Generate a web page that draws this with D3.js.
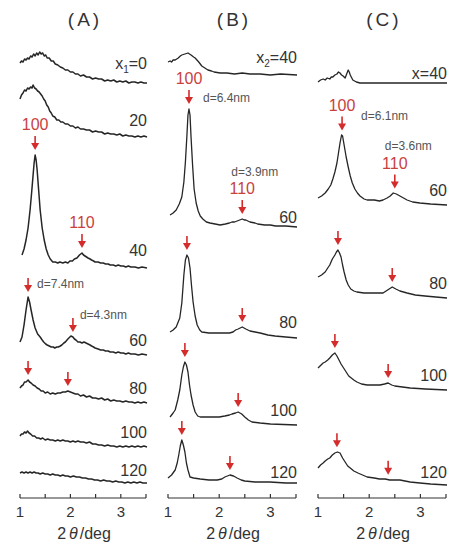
<!DOCTYPE html>
<html>
<head>
<meta charset="utf-8">
<script src="https://cdn.jsdelivr.net/npm/d3@7"></script>
<style>
  body { margin: 0; background: #fff; }
  text { font-family: "Liberation Sans", Arial, sans-serif; }
</style>
</head>
<body>
<script>
// ---- data (2theta in deg, intensity in a.u., each curve shifted by its offset) ----
var labelsA = ["x_1=0", "20", "40", "60", "80", "100", "120"];
var offsetsA = [415, 361, 230, 143, 95, 51, 15];
var curvesA = [
  [[1.0,20],[1.03,22],[1.06,21],[1.09,24],[1.12,23],[1.15,25],[1.18,24],[1.21,27],[1.24,26],[1.27,29],[1.3,27],[1.33,30],[1.36,28],[1.39,31],[1.42,29],[1.45,30],[1.48,27],[1.51,28],[1.54,25],[1.58,25],[1.62,22],[1.66,22],[1.7,19],[1.75,18],[1.8,16],[1.85,15],[1.9,13],[1.95,13],[2.0,11],[2.05,11],[2.1,9],[2.15,9],[2.2,7],[2.26,8],[2.32,6],[2.38,6],[2.44,4],[2.5,5],[2.56,4],[2.62,4],[2.68,2],[2.74,3],[2.8,2],[2.86,3],[2.92,1],[2.98,2],[3.04,1],[3.1,2],[3.16,0],[3.22,1],[3.28,1],[3.34,0],[3.4,1],[3.46,0],[3.52,0]],
  [[1.0,38],[1.03,42],[1.06,44],[1.09,47],[1.12,46],[1.15,49],[1.18,48],[1.21,50],[1.24,49],[1.26,52],[1.29,49],[1.32,48],[1.35,46],[1.38,45],[1.41,43],[1.44,41],[1.47,38],[1.5,36],[1.53,32],[1.56,30],[1.59,26],[1.62,24],[1.65,21],[1.69,20],[1.73,17],[1.77,17],[1.81,15],[1.85,15],[1.9,13],[1.95,13],[2.0,11],[2.05,11],[2.1,9],[2.15,10],[2.2,8],[2.26,8],[2.32,7],[2.38,7],[2.44,5],[2.5,6],[2.56,5],[2.62,5],[2.68,3],[2.74,4],[2.8,3],[2.86,3],[2.92,2],[2.98,3],[3.04,1],[3.1,2],[3.16,1],[3.22,1],[3.28,0],[3.34,1],[3.4,0],[3.46,1],[3.52,0]],
  [[1.04,13],[1.08,19],[1.12,28],[1.16,40],[1.2,58],[1.23,75],[1.26,93],[1.28,105],[1.30,113],[1.32,108],[1.34,98],[1.37,78],[1.4,58],[1.44,40],[1.48,28],[1.52,19],[1.56,13],[1.6,9],[1.65,6],[1.7,6],[1.75,5],[1.79,6],[1.85,5],[1.9,6],[1.95,5],[1.99,7],[2.04,7],[2.08,9],[2.13,10],[2.18,13],[2.23,15],[2.26,13],[2.29,12],[2.32,11],[2.35,10],[2.39,9],[2.42,8],[2.46,7],[2.49,6],[2.55,6],[2.6,5],[2.65,5],[2.7,4],[2.75,4],[2.79,3],[2.85,3],[2.9,2],[2.95,3],[3.0,2],[3.05,2],[3.1,1],[3.15,2],[3.2,1],[3.28,1],[3.35,0],[3.42,1],[3.52,0]],
  [[1.0,13],[1.04,18],[1.08,30],[1.12,45],[1.16,58],[1.19,53],[1.22,45],[1.26,35],[1.30,27],[1.35,21],[1.40,18],[1.44,15],[1.47,13],[1.51,11],[1.54,10],[1.58,9],[1.62,8],[1.66,8],[1.69,7],[1.73,8],[1.76,8],[1.8,9],[1.83,10],[1.87,12],[1.9,13],[1.95,16],[2.01,19],[2.05,18],[2.08,16],[2.11,15],[2.15,13],[2.19,13],[2.23,12],[2.27,13],[2.31,12],[2.35,11],[2.39,10],[2.42,9],[2.46,8],[2.49,7],[2.55,6],[2.6,5],[2.65,5],[2.7,4],[2.75,4],[2.79,3],[2.85,3],[2.9,2],[2.95,3],[3.0,2],[3.05,2],[3.1,1],[3.15,2],[3.2,1],[3.28,1],[3.35,0],[3.42,1],[3.52,0]],
  [[1.0,15],[1.03,17],[1.06,18],[1.09,21],[1.12,21],[1.16,23],[1.19,21],[1.22,20],[1.26,18],[1.3,17],[1.34,15],[1.38,14],[1.42,12],[1.46,12],[1.5,10],[1.55,11],[1.6,9],[1.65,10],[1.7,9],[1.75,10],[1.8,10],[1.85,11],[1.9,11],[1.95,12],[2.0,11],[2.05,10],[2.1,9],[2.15,9],[2.2,7],[2.26,8],[2.32,6],[2.38,7],[2.44,5],[2.5,5],[2.56,4],[2.62,5],[2.68,3],[2.74,4],[2.8,2],[2.86,3],[2.92,2],[2.98,2],[3.04,1],[3.1,2],[3.16,1],[3.22,1],[3.28,0],[3.34,1],[3.4,0],[3.46,1],[3.52,0]],
  [[1.0,11],[1.03,13],[1.06,13],[1.09,15],[1.12,14],[1.15,16],[1.18,14],[1.21,13],[1.25,11],[1.29,11],[1.33,9],[1.37,9],[1.41,8],[1.45,9],[1.5,7],[1.55,8],[1.6,7],[1.65,7],[1.7,6],[1.75,7],[1.8,6],[1.85,7],[1.9,6],[1.95,6],[2.0,5],[2.05,6],[2.1,5],[2.15,6],[2.2,5],[2.26,5],[2.32,4],[2.38,5],[2.44,3],[2.5,3],[2.56,2],[2.62,2],[2.68,1],[2.74,2],[2.8,1],[2.86,1],[2.92,0],[2.98,1],[3.04,0],[3.1,1],[3.16,0],[3.22,1],[3.28,0],[3.34,1],[3.4,0],[3.46,1],[3.52,0]],
  [[1.0,10],[1.04,11],[1.08,10],[1.12,11],[1.16,10],[1.2,11],[1.24,10],[1.28,11],[1.32,10],[1.36,10],[1.4,9],[1.45,10],[1.5,9],[1.55,9],[1.6,8],[1.65,9],[1.7,8],[1.75,8],[1.8,7],[1.85,8],[1.9,7],[1.95,7],[2.0,6],[2.06,7],[2.12,6],[2.18,6],[2.24,5],[2.3,5],[2.36,4],[2.42,4],[2.48,3],[2.54,3],[2.6,2],[2.66,3],[2.72,2],[2.78,2],[2.84,1],[2.9,2],[2.96,1],[3.02,1],[3.08,0],[3.14,1],[3.2,0],[3.26,1],[3.32,0],[3.38,1],[3.44,0],[3.52,0]]
];
var peaksA = [[], [], [1.30, 2.23], [1.16, 2.05], [1.16, 1.95], [], []];

var labelsB = ["x_2=40", "60", "80", "100", "120"];
var offsetsB = [423, 271, 160, 73, 15];
var curvesB = [
  [[1.0,13],[1.04,14],[1.07,13],[1.1,15],[1.14,15],[1.2,17],[1.24,19],[1.27,20],[1.33,21],[1.39,22],[1.45,20],[1.5,18],[1.53,17],[1.6,13],[1.66,9],[1.72,7],[1.78,5],[1.85,4],[1.9,3],[2.02,2],[2.15,2],[2.3,1],[2.45,2],[2.6,1],[2.8,1],[3.0,0],[3.2,1],[3.52,0]],
  [[1.04,12],[1.1,14],[1.16,17],[1.22,23],[1.27,30],[1.31,45],[1.34,65],[1.37,92],[1.39,112],[1.41,118],[1.43,112],[1.45,90],[1.48,62],[1.51,38],[1.55,24],[1.59,16],[1.63,11],[1.68,8],[1.75,5],[1.82,4],[1.92,3],[2.02,2],[2.12,3],[2.2,4],[2.25,5],[2.3,5],[2.35,6],[2.4,7],[2.45,8],[2.49,7],[2.52,7],[2.56,6],[2.6,5],[2.7,4],[2.75,3],[2.89,2],[3.0,2],[3.1,1],[3.3,1],[3.52,0]],
  [[1.04,6],[1.1,8],[1.16,11],[1.23,20],[1.27,35],[1.31,63],[1.34,78],[1.37,83],[1.40,80],[1.43,70],[1.46,52],[1.49,36],[1.53,22],[1.57,13],[1.62,8],[1.66,6],[1.8,5],[1.92,5],[2.1,5],[2.2,5],[2.27,6],[2.32,8],[2.37,9],[2.45,11],[2.52,9],[2.6,7],[2.7,6],[2.8,5],[2.95,3],[3.09,2],[3.3,1],[3.52,0]],
  [[1.04,8],[1.1,12],[1.14,15],[1.19,25],[1.23,35],[1.27,50],[1.30,58],[1.33,63],[1.36,60],[1.39,53],[1.42,40],[1.45,30],[1.49,20],[1.53,13],[1.58,9],[1.63,8],[1.8,8],[2.0,8],[2.11,9],[2.2,10],[2.25,11],[2.32,12],[2.37,13],[2.44,11],[2.5,8],[2.57,5],[2.64,3],[2.8,2],[3.0,1],[3.52,0]],
  [[1.0,5],[1.07,8],[1.14,13],[1.18,20],[1.21,28],[1.24,37],[1.27,43],[1.30,38],[1.33,31],[1.36,20],[1.39,13],[1.43,6],[1.5,5],[1.63,4],[1.8,3],[1.96,3],[2.05,4],[2.11,6],[2.16,7],[2.21,8],[2.28,7],[2.35,5],[2.43,3],[2.5,2],[2.7,1],[2.99,1],[3.3,0],[3.52,0]]
];
var peaksB = [[], [1.41, 2.45], [1.37, 2.45], [1.33, 2.37], [1.27, 2.21]];

var labelsC = ["x=40", "60", "80", "100", "120"];
var offsetsC = [415, 293, 200, 108, 13];
var curvesC = [
  [[1.0,1],[1.05,3],[1.1,4],[1.14,3],[1.18,5],[1.23,4],[1.26,6],[1.29,6],[1.33,8],[1.37,9],[1.4,11],[1.43,10],[1.46,8],[1.49,7],[1.53,5],[1.56,9],[1.59,13],[1.61,11],[1.63,8],[1.66,5],[1.68,3],[1.75,1],[1.82,0],[2.2,0],[2.6,0],[3.0,0],[3.52,0]],
  [[1.0,7],[1.07,9],[1.14,12],[1.2,16],[1.25,20],[1.29,26],[1.33,33],[1.37,42],[1.40,52],[1.43,62],[1.46,70],[1.48,69],[1.51,60],[1.55,48],[1.59,38],[1.63,29],[1.67,22],[1.72,16],[1.77,12],[1.82,9],[1.9,6],[1.96,5],[2.1,5],[2.2,4],[2.27,5],[2.35,7],[2.41,9],[2.47,12],[2.53,11],[2.6,9],[2.67,7],[2.74,5],[2.85,3],[2.99,2],[3.2,1],[3.52,0]],
  [[1.0,21],[1.07,23],[1.14,26],[1.19,30],[1.23,33],[1.28,39],[1.33,43],[1.36,46],[1.39,48],[1.42,45],[1.45,41],[1.48,33],[1.51,26],[1.55,18],[1.59,13],[1.64,9],[1.7,7],[1.76,6],[1.9,5],[2.02,5],[2.15,5],[2.27,5],[2.36,8],[2.45,11],[2.52,9],[2.6,7],[2.74,5],[2.9,3],[3.09,2],[3.3,1],[3.52,0]],
  [[1.0,22],[1.04,24],[1.1,27],[1.14,28],[1.19,30],[1.23,32],[1.28,35],[1.33,37],[1.37,34],[1.41,30],[1.45,26],[1.5,22],[1.55,18],[1.6,14],[1.65,12],[1.7,10],[1.76,8],[1.85,6],[1.96,5],[2.1,5],[2.21,5],[2.3,6],[2.37,7],[2.44,5],[2.5,4],[2.65,3],[2.8,2],[3.1,1],[3.52,0]],
  [[1.0,17],[1.05,20],[1.1,22],[1.14,24],[1.19,26],[1.23,27],[1.28,30],[1.33,32],[1.38,33],[1.43,32],[1.48,27],[1.53,23],[1.58,19],[1.63,17],[1.7,14],[1.78,12],[1.87,10],[1.96,8],[2.1,7],[2.2,6],[2.31,6],[2.4,5],[2.5,5],[2.6,5],[2.8,3],[2.99,2],[3.2,1],[3.52,0]]
];
var peaksC = [[], [1.47, 2.50], [1.39, 2.45], [1.33, 2.37], [1.37, 2.37]];

var xTicks = [1, 2, 3];
var xMinorTicks = [1, 1.5, 2, 2.5, 3, 3.5];
var panelTitles = ["(A)", "(B)", "(C)"];

// ---- layout ----
var width = 449, height = 544;
var curveColour = "#262626";
var textColour = "#333";
var red = "#d42b2b";
var millerRed = "#c8413f";

var svg = d3.select("body").append("svg")
  .attr("width", width)
  .attr("height", height);

var yScale = d3.scaleLinear().domain([0, 460]).range([498, 38]);

// labelLift: how far above the curve tail the sample label sits
var panels = [
  {title: panelTitles[0], range: [20, 146], labels: labelsA, offsets: offsetsA, curves: curvesA, peaks: peaksA, strokeW: 1.5,
   labelLift: [20, 17, 18, 15, 15, 15, 13], miller: {row: 2},
   dLabels: [{row: 3, peak: 0, text: "d=7.4nm", dx: 9, dy: -4}, {row: 3, peak: 1, text: "d=4.3nm", dx: 7, dy: -13}]},
  {title: panelTitles[1], range: [168, 296], labels: labelsB, offsets: offsetsB, curves: curvesB, peaks: peaksB, strokeW: 1.3,
   labelLift: [18, 10, 16, 15, 11], miller: {row: 1},
   dLabels: [{row: 1, peak: 0, text: "d=6.4nm", dx: 14, dy: -2}, {row: 1, peak: 1, text: "d=3.9nm", dx: -11, dy: -38}]},
  {title: panelTitles[2], range: [318, 446], labels: labelsC, offsets: offsetsC, curves: curvesC, peaks: peaksC, strokeW: 1.3,
   labelLift: [10, 15, 15, 15, 13], miller: {row: 1},
   dLabels: [{row: 1, peak: 0, text: "d=6.1nm", dx: 19, dy: -11}, {row: 1, peak: 1, text: "d=3.6nm", dx: -10, dy: -39}]}
];

var millerText = ["100", "110"];

function valueAt(curve, x) {
  // linear lookup of curve intensity at 2theta = x
  for (var i = 1; i < curve.length; i++) {
    if (curve[i][0] >= x) {
      var a = curve[i - 1], b = curve[i];
      var t = (x - a[0]) / (b[0] - a[0]);
      return a[1] + t * (b[1] - a[1]);
    }
  }
  return curve[curve.length - 1][1];
}

function drawArrow(g, x, tipY) {
  g.append("line")
    .attr("x1", x).attr("x2", x)
    .attr("y1", tipY - 14).attr("y2", tipY - 5)
    .attr("stroke", red).attr("stroke-width", 1.6);
  g.append("path")
    .attr("d", "M" + (x - 4) + "," + (tipY - 7) + "L" + (x + 4) + "," + (tipY - 7) + "L" + x + "," + tipY + "Z")
    .attr("fill", red);
}

function addLabel(g, x, y, label) {
  var t = g.append("text")
    .attr("x", x).attr("y", y)
    .attr("text-anchor", "end")
    .attr("font-size", 16)
    .attr("fill", textColour);
  if (label.indexOf("_") >= 0) {
    var parts = label.split("_");
    t.append("tspan").text(parts[0]);
    t.append("tspan").attr("font-size", 10).attr("dy", 4).text(parts[1].charAt(0));
    t.append("tspan").attr("dy", -4).text(parts[1].slice(1));
  } else {
    t.text(label);
  }
}

panels.forEach(function(p) {
  var g = svg.append("g");
  var xScale = d3.scaleLinear().domain([1, 3.5]).range(p.range);
  var mid = (p.range[0] + p.range[1]) / 2;

  g.append("text")
    .attr("x", mid + 2).attr("y", 26)
    .attr("text-anchor", "middle")
    .attr("font-size", 19)
    .attr("letter-spacing", 3)
    .attr("fill", textColour)
    .text(p.title);

  var line = d3.line()
    .x(function(d) { return xScale(d[0]); })
    .y(function(d) { return d[1]; })
    .curve(d3.curveLinear);

  p.curves.forEach(function(c, i) {
    var off = p.offsets[i];
    var pts = c.map(function(d) { return [d[0], yScale(d[1] + off)]; });
    g.append("path")
      .attr("d", line(pts))
      .attr("fill", "none")
      .attr("stroke", curveColour)
      .attr("stroke-width", p.strokeW)
      .attr("stroke-linejoin", "round");

    addLabel(g, p.range[1] + 1, yScale(off + p.labelLift[i]) + 6, p.labels[i]);

    p.peaks[i].forEach(function(pk, k) {
      var tip = yScale(valueAt(c, pk) + off) - 5;
      drawArrow(g, xScale(pk), tip);
      if (i == p.miller.row) {
        g.append("text")
          .attr("x", xScale(pk)).attr("y", tip - 20)
          .attr("text-anchor", "middle")
          .attr("font-size", 16)
          .attr("fill", millerRed)
          .text(millerText[k]);
      }
    });
  });

  p.dLabels.forEach(function(dl) {
    var c = p.curves[dl.row];
    var pk = p.peaks[dl.row][dl.peak];
    var tip = yScale(valueAt(c, pk) + p.offsets[dl.row]) - 5;
    g.append("text")
      .attr("x", xScale(pk) + dl.dx).attr("y", tip + dl.dy)
      .attr("font-size", 12)
      .attr("fill", "#555")
      .text(dl.text);
  });

  // x axis
  var axisY = 498;
  g.append("line")
    .attr("x1", xScale(1)).attr("x2", xScale(3.5))
    .attr("y1", axisY).attr("y2", axisY)
    .attr("stroke", textColour).attr("stroke-width", 1.2);
  g.selectAll(".tick").data(xMinorTicks).enter().append("line")
    .attr("x1", function(d) { return xScale(d); })
    .attr("x2", function(d) { return xScale(d); })
    .attr("y1", axisY - 4).attr("y2", axisY)
    .attr("stroke", textColour).attr("stroke-width", 1.2);
  g.selectAll(".tl").data(xTicks).enter().append("text")
    .attr("x", function(d) { return xScale(d); })
    .attr("y", axisY + 19)
    .attr("text-anchor", "middle")
    .attr("font-size", 15)
    .attr("fill", textColour)
    .text(function(d) { return d; });
  var lab = g.append("text")
    .attr("x", mid + 1).attr("y", axisY + 41)
    .attr("text-anchor", "middle")
    .attr("font-size", 16)
    .attr("fill", textColour);
  lab.append("tspan").text("2");
  lab.append("tspan").attr("dx", 3).attr("font-style", "italic").text("θ");
  lab.append("tspan").attr("dx", 2).text("/deg");
});
</script>
</body>
</html>
